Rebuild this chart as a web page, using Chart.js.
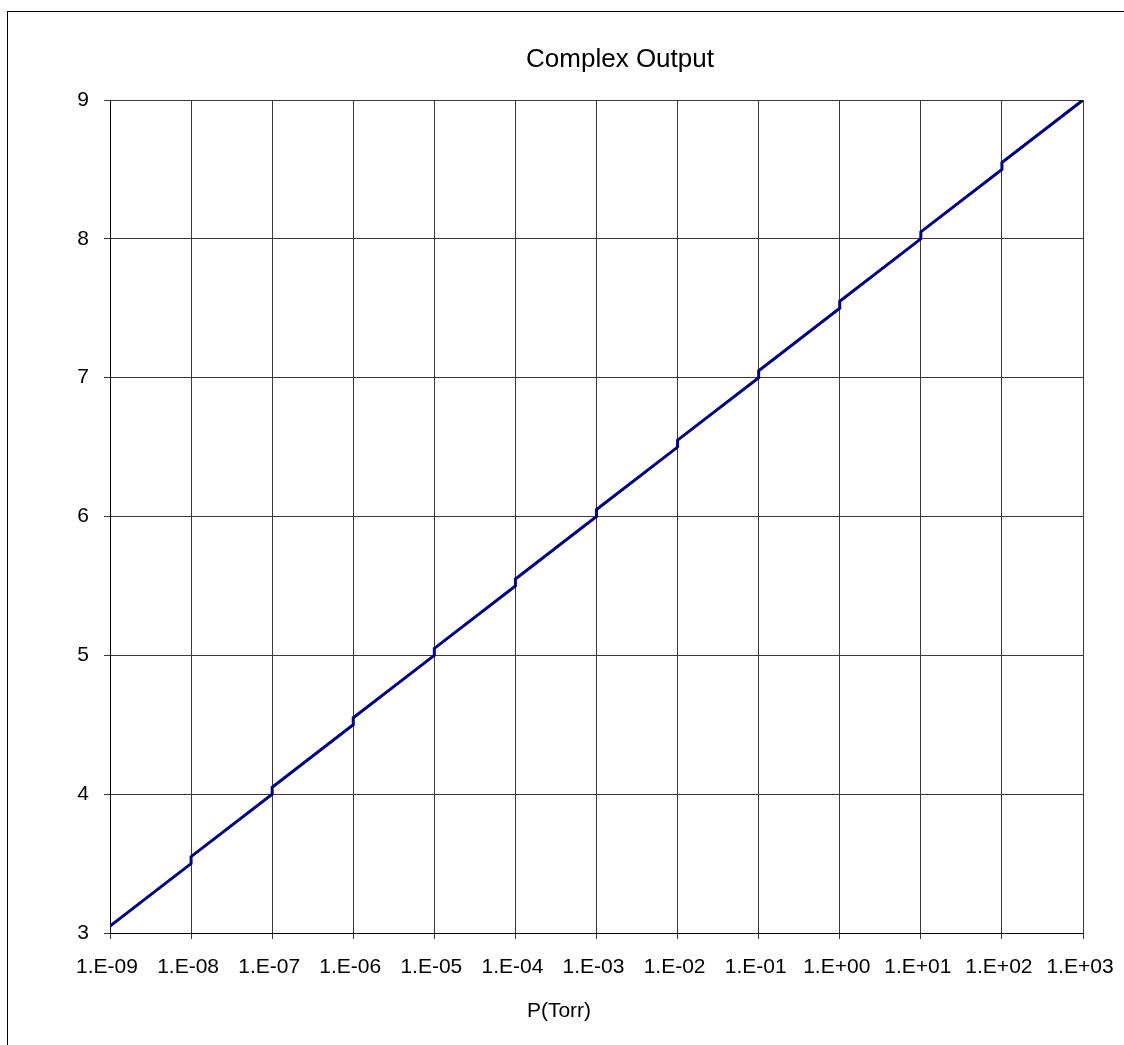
<!DOCTYPE html>
<html>
<head>
<meta charset="utf-8">
<title>Complex Output</title>
<script src="https://cdn.jsdelivr.net/npm/chart.js@4/dist/chart.umd.min.js"></script>
<style>
  body { margin: 0; background: #fff; overflow: hidden; }
  #wrap { position: relative; width: 1124px; height: 1045px; }
  #frame { position: absolute; left: 7px; top: 11px; width: 1400px; height: 1400px;
           border-left: 1px solid #000; border-top: 1px solid #000; }
  #myChart { position: absolute; left: 0; top: 0; }
</style>
</head>
<body>
<div id="wrap">
  <div id="frame"></div>
  <canvas id="myChart" width="1124" height="1045"></canvas>
</div>
<script>
// values
var pressure = [1e-9, 1e-8, 1e-8, 1e-7, 1e-7, 1e-6, 1e-6, 1e-5, 1e-5, 1e-4, 1e-4, 1e-3,
                1e-3, 1e-2, 1e-2, 1e-1, 1e-1, 1e0, 1e0, 1e1, 1e1, 1e2, 1e2, 1e3];
var output = [3.05, 3.5, 3.55, 4.0, 4.05, 4.5, 4.55, 5.0, 5.05, 5.5, 5.55, 6.0,
              6.05, 6.5, 6.55, 7.0, 7.05, 7.5, 7.55, 8.0, 8.05, 8.5, 8.55, 9.0];
var xTickValues = [1e-9, 1e-8, 1e-7, 1e-6, 1e-5, 1e-4, 1e-3, 1e-2, 1e-1, 1e0, 1e1, 1e2, 1e3];
var xTickLabels = ['1.E-09', '1.E-08', '1.E-07', '1.E-06', '1.E-05', '1.E-04', '1.E-03',
                   '1.E-02', '1.E-01', '1.E+00', '1.E+01', '1.E+02', '1.E+03'];
var yTickLabels = ['3', '4', '5', '6', '7', '8', '9'];
var chartTitle = 'Complex Output';
var xTitle = 'P(Torr)';

var FONT = '"Liberation Sans", Arial, sans-serif';
var gridColor = '#3a3a3a';

var points = pressure.map(function (p, i) { return { x: p, y: output[i] }; });

// titles drawn by hand so they sit where the original puts them
var titles = {
  id: 'titles',
  afterDraw: function (chart) {
    var ctx = chart.ctx;
    ctx.save();
    ctx.fillStyle = '#000';
    ctx.textAlign = 'center';
    ctx.textBaseline = 'alphabetic';
    ctx.font = '26px ' + FONT;
    ctx.fillText(chartTitle, 620, 67);
    ctx.font = '21px ' + FONT;
    ctx.fillText(xTitle, 559, 1017);
    ctx.restore();
  }
};

var ctx = document.getElementById('myChart').getContext('2d');
var chart = new Chart(ctx, {
  type: 'scatter',
  data: {
    datasets: [{
      label: 'Output',
      data: points,
      showLine: true,
      borderColor: '#000080',
      borderWidth: 3,
      pointRadius: 0,
      tension: 0
    }]
  },
  options: {
    responsive: false,
    animation: false,
    layout: { padding: { top: 100, right: 41, left: 0, bottom: 0 } },
    plugins: {
      legend: { display: false },
      title: { display: false },
      tooltip: { enabled: false }
    },
    scales: {
      x: {
        type: 'logarithmic',
        min: 1e-9,
        max: 1e3,
        afterBuildTicks: function (scale) {
          scale.ticks = xTickValues.map(function (v) { return { value: v }; });
        },
        afterFit: function (scale) {
          scale.height = 112;
          scale.paddingLeft = 0;
          scale.paddingRight = 0;
        },
        ticks: {
          color: '#000',
          font: { family: FONT, size: 21 },
          padding: 16,
          labelOffset: -3,
          maxRotation: 0,
          autoSkip: false,
          callback: function (value, index) { return xTickLabels[index]; }
        },
        grid: { color: gridColor, lineWidth: 1, tickLength: 6, drawTicks: true },
        border: { color: '#000', width: 1 }
      },
      y: {
        min: 3,
        max: 9,
        afterFit: function (scale) {
          scale.width = 110;
          scale.paddingTop = 0;
          scale.paddingBottom = 0;
        },
        ticks: {
          stepSize: 1,
          color: '#000',
          font: { family: FONT, size: 21 },
          padding: 15,
          callback: function (value, index) { return yTickLabels[index]; }
        },
        grid: { color: gridColor, lineWidth: 1, tickLength: 6, drawTicks: true },
        border: { color: '#000', width: 1 }
      }
    }
  },
  plugins: [titles]
});
</script>
</body>
</html>
